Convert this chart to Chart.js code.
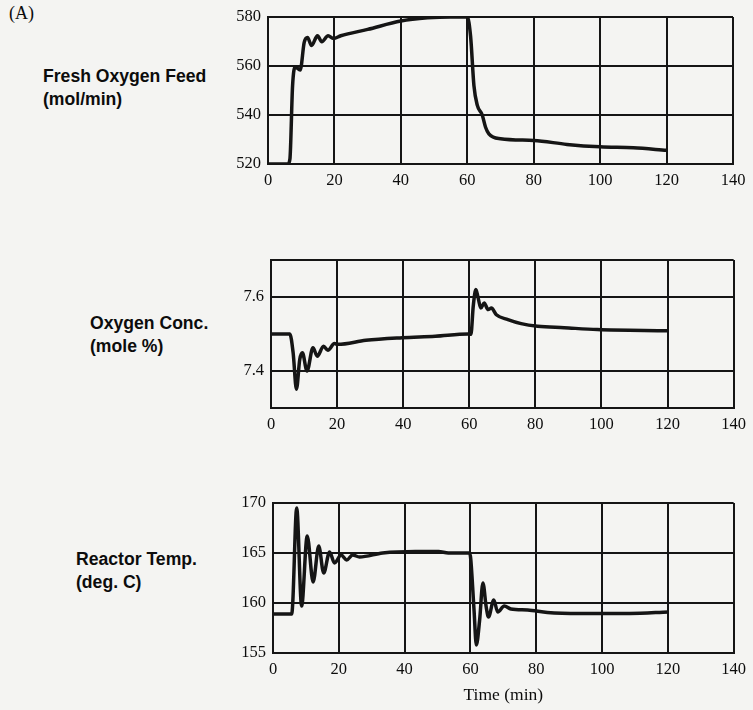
<!DOCTYPE html>
<html>
<head>
<meta charset="utf-8">
<script src="https://cdn.jsdelivr.net/npm/chart.js@4/dist/chart.umd.min.js"></script>
<style>
  body { margin: 0; background: #f4f4f2; }
  #page { position: relative; width: 753px; height: 710px; overflow: hidden; }
  canvas { position: absolute; left: 0; }
  .lbl { position: absolute; font-family: 'Liberation Sans', Arial, sans-serif; font-weight: bold; font-size: 17.6px; line-height: 23px; color: #0c0c0c; }
  .tag { position: absolute; left: 9px; top: 3px; font-family: 'Liberation Serif', serif; font-size: 18px; color: #0c0c0c; }
</style>
</head>
<body>
<div id="page">
  <div class="tag">(A)</div>
  <div class="lbl" style="left:43px;top:65px">Fresh Oxygen Feed<br>(mol/min)</div>
  <div class="lbl" style="left:90px;top:312px">Oxygen Conc.<br>(mole %)</div>
  <div class="lbl" style="left:76px;top:548px">Reactor Temp.<br>(deg. C)</div>
  <canvas id="c1" width="753" height="200" style="top:0px"></canvas>
  <canvas id="c2" width="753" height="225" style="top:220px"></canvas>
  <canvas id="c3" width="753" height="250" style="top:460px"></canvas>
</div>
<script>
// time axis ticks (min)
var timeTicks = [0, 20, 40, 60, 80, 100, 120, 140];

// fresh oxygen feed (mol/min)
var feedTime = [0, 6, 6.6, 7.4, 8.2, 9.7, 10.9, 11.9, 13.1, 14.9, 16.2, 18.1, 19.7, 21.9, 30, 40, 48, 55, 60, 61, 62, 63, 64.5, 65.5, 66.5, 70, 80, 90, 100, 110, 120];
var feedValues = [520, 520, 522, 552, 559.6, 558.3, 569.6, 571.6, 568.3, 572.3, 569.9, 572.3, 571.2, 572.3, 574.9, 578.3, 579.6, 580, 580, 572, 552, 544, 540, 535, 532.3, 530.3, 529.6, 528, 527, 526.6, 525.6];
var feedTicks = [520, 540, 560, 580];

// oxygen concentration (mole %)
var concTime = [0, 5.7, 6.7, 7.7, 8.7, 9.5, 10.9, 12.7, 14, 15.9, 17.2, 19.2, 20.2, 28.7, 39.7, 49.7, 59.7, 60.5, 61.2, 62, 62.7, 63.5, 64.5, 65.7, 66.7, 68.2, 71.7, 75.7, 80.7, 88.7, 98.7, 120];
var concValues = [7.5, 7.5, 7.449, 7.351, 7.431, 7.449, 7.4, 7.463, 7.44, 7.467, 7.456, 7.474, 7.472, 7.483, 7.49, 7.494, 7.5, 7.499, 7.575, 7.62, 7.597, 7.57, 7.584, 7.566, 7.57, 7.552, 7.539, 7.528, 7.521, 7.517, 7.512, 7.509];
var concTicks = [7.3, 7.4, 7.6, 7.7];

// reactor temperature (deg C)
var tempTime = [0, 5.7, 6, 7.2, 8.7, 10.4, 12.2, 13.9, 15.4, 17.2, 18.7, 20.7, 22.4, 24.2, 26.3, 33.3, 43.3, 50.3, 53.3, 59.8, 60.1, 61.1, 61.8, 62.8, 63.8, 64.8, 65.5, 67.1, 68.3, 70.3, 72.3, 77.4, 83.4, 93.4, 108.4, 120.2];
var tempValues = [158.9, 158.9, 160, 169.5, 159.7, 166.7, 162.1, 165.7, 163, 165.1, 164, 164.8, 164.3, 164.8, 164.6, 165, 165.15, 165.15, 165, 165, 164.4, 159.3, 155.8, 158.3, 162, 159.6, 158.6, 160.3, 159.1, 159.7, 159.4, 159.3, 159.05, 158.95, 158.95, 159.1];
var tempTicks = [155, 160, 165, 170];

var tickFont = { family: "'Liberation Serif', serif", size: 16.5 };

function pts(xs, ys) {
    return xs.map(function (x, i) { return { x: x, y: ys[i] }; });
}

function makeChart(id, xs, ys, yTicks, shown, opts) {
    return new Chart(document.getElementById(id), {
        type: 'line',
        data: {
            datasets: [{
                data: pts(xs, ys),
                borderColor: '#151515',
                borderWidth: 3.5,
                pointRadius: 0,
                cubicInterpolationMode: 'monotone'
            }]
        },
        options: {
            responsive: false,
            animation: false,
            plugins: { legend: { display: false }, tooltip: { enabled: false } },
            layout: { padding: { top: opts.top, right: opts.right, left: 0, bottom: 0 } },
            scales: {
                x: {
                    type: 'linear',
                    min: 0,
                    max: 140,
                    afterBuildTicks: function (s) { s.ticks = timeTicks.map(function (v) { return { value: v }; }); },
                    afterFit: function (s) { s.height = opts.xh; },
                    grid: { color: '#151515', lineWidth: 2, drawTicks: false },
                    border: { color: '#151515', width: 2 },
                    ticks: { color: '#0c0c0c', font: tickFont, padding: 7, maxRotation: 0 },
                    title: opts.title ? { display: true, text: opts.title, color: '#0c0c0c', font: { family: "'Liberation Serif', serif", size: 17.5 }, padding: { top: 2 } } : { display: false }
                },
                y: {
                    min: yTicks[0],
                    max: yTicks[yTicks.length - 1],
                    afterBuildTicks: function (s) { s.ticks = yTicks.map(function (v) { return { value: v }; }); },
                    afterFit: function (s) { s.width = opts.left; },
                    grid: { color: '#151515', lineWidth: 2, drawTicks: false },
                    border: { color: '#151515', width: 2 },
                    ticks: {
                        color: '#0c0c0c', font: tickFont, padding: 7,
                        callback: function (v) { return shown.indexOf(v) >= 0 ? String(v) : ''; }
                    }
                }
            }
        }
    });
}

makeChart('c1', feedTime, feedValues, feedTicks, feedTicks, { top: 14, right: 20, left: 268, xh: 36 });
makeChart('c2', concTime, concValues, concTicks, [7.4, 7.6], { top: 40, right: 15, left: 271, xh: 37 });
makeChart('c3', tempTime, tempValues, tempTicks, tempTicks, { top: 43, right: 15, left: 273, xh: 57, title: 'Time (min)' });
</script>
</body>
</html>
